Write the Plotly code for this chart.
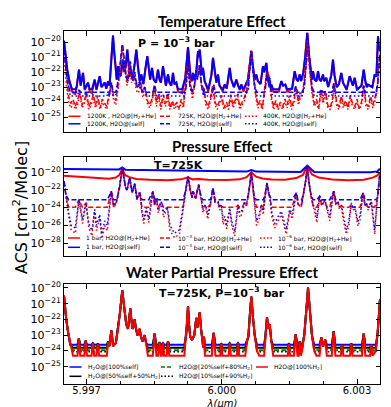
import numpy as np
import plotly.graph_objects as go

# ---------------- data: wavelength in micron, log10(ACS [cm^2/molecule]) ----------------

# 725 K, 1e-3 bar line profile (line tops and wings)
lines_725k_x = [
    5.996500, 5.996520, 5.996550, 5.996590, 5.996640, 5.996700, 5.996800, 5.996830, 5.996860,
    5.996950, 5.996980, 5.997010, 5.997110, 5.997140, 5.997170, 5.997220, 5.997250, 5.997280,
    5.997450, 5.997480, 5.997510, 5.997550, 5.997590, 5.997650, 5.997700, 5.997745, 5.997775,
    5.997793, 5.997810, 5.997840, 5.997880, 5.997920, 5.997950, 5.997971, 5.997990, 5.998020,
    5.998045, 5.998068, 5.998090, 5.998130, 5.998179, 5.998200, 5.998240, 5.998290, 5.998320,
    5.998360, 5.998470, 5.998510, 5.998550, 5.998590, 5.998620, 5.998650, 5.998670, 5.998696,
    5.998720, 5.998780, 5.998807, 5.998835, 5.999170, 5.999210, 5.999230, 5.999251, 5.999270,
    5.999300, 5.999340, 5.999390, 5.999415, 5.999435, 5.999460, 5.999485, 5.999510, 5.999540,
    5.999570, 5.999590, 5.999606, 5.999625, 5.999780, 5.999821, 5.999860, 5.999965, 5.999989,
    6.000013, 6.000150, 6.000176, 6.000200, 6.000335, 6.000360, 6.000385, 6.000520, 6.000566,
    6.000590, 6.000620, 6.000655, 6.000690, 6.000730, 6.000780, 6.000830, 6.000940, 6.000970,
    6.001003, 6.001030, 6.001063, 6.001100, 6.001140, 6.001465, 6.001490, 6.001515, 6.001600,
    6.001640, 6.001680, 6.001705, 6.001729, 6.001755, 6.001780, 6.001830, 6.001870, 6.001895,
    6.001913, 6.001930, 6.001960, 6.002000, 6.002050, 6.002100, 6.002170, 6.002208, 6.002250,
    6.002296, 6.002330, 6.002440, 6.002483, 6.002520, 6.002640, 6.002667, 6.002695, 6.002845,
    6.002873, 6.002900, 6.003110, 6.003148, 6.003185, 6.003290, 6.003317, 6.003345, 6.003420,
    6.003460, 6.003490, 6.003503, 6.003510,
]
lines_725k_log = [
    -20.5, -21.3, -22.0, -22.8, -23.6, -24.8, -24.8, -23.2, -24.8,
    -24.8, -23.35, -24.8, -24.8, -23.5, -24.8, -24.8, -23.55, -24.8,
    -24.8, -23.4, -23.7, -22.7, -23.7, -23.5, -22.6, -21.5, -20.6,
    -20.15, -20.6, -21.5, -22.3, -22.6, -21.9, -21.3, -21.9, -22.6,
    -22.4, -22.0, -22.5, -23.0, -22.6, -23.0, -23.4, -23.0, -23.5,
    -24.8, -24.8, -22.9, -24.8, -24.8, -23.45, -24.8, -24.8, -23.5,
    -24.8, -24.8, -23.4, -24.8, -24.8, -23.0, -22.2, -21.15, -22.2,
    -23.1, -23.3, -23.0, -22.4, -21.9, -22.5, -22.1, -21.55, -22.6,
    -23.3, -23.8, -23.1, -24.8, -24.8, -22.85, -24.8, -24.8, -23.55,
    -24.8, -24.8, -23.5, -24.8, -24.8, -23.5, -24.8, -24.8, -23.25,
    -23.1, -21.8, -20.55, -21.8, -23.0, -24.0, -24.8, -24.8, -23.0,
    -21.85, -22.6, -22.3, -23.4, -24.8, -24.8, -23.55, -24.8, -24.8,
    -22.95, -24.8, -24.8, -23.4, -24.4, -24.0, -23.0, -21.8, -20.7,
    -19.97, -20.7, -21.8, -23.0, -24.0, -24.8, -24.8, -23.15, -23.7,
    -23.3, -24.8, -24.8, -22.75, -24.8, -24.8, -23.6, -24.8, -24.8,
    -23.55, -24.8, -24.8, -22.9, -24.8, -24.8, -23.6, -24.8, -24.0,
    -22.8, -21.6, -20.9, -20.7,
]

# 1200 K, 1e-3 bar line profile
hot_1200k_x = [
    5.996500, 5.996530, 5.996570, 5.996620, 5.996680, 5.996750, 5.996780, 5.996833, 5.996870,
    5.996922, 5.996960, 5.997032, 5.997070, 5.997120, 5.997181, 5.997220, 5.997292, 5.997330,
    5.997403, 5.997440, 5.997476, 5.997510, 5.997540, 5.997565, 5.997587, 5.997610, 5.997640,
    5.997670, 5.997698, 5.997730, 5.997760, 5.997809, 5.997840, 5.997870, 5.997904, 5.997930,
    5.997960, 5.997979, 5.998020, 5.998070, 5.998104, 5.998140, 5.998180, 5.998215, 5.998260,
    5.998310, 5.998348, 5.998380, 5.998410, 5.998452, 5.998490, 5.998540, 5.998585, 5.998620,
    5.998650, 5.998696, 5.998730, 5.998760, 5.998807, 5.998840, 5.998880, 5.998918, 5.998950,
    5.998991, 5.999030, 5.999120, 5.999190, 5.999220, 5.999251, 5.999280, 5.999310, 5.999335,
    5.999362, 5.999400, 5.999440, 5.999473, 5.999492, 5.999510, 5.999540, 5.999560, 5.999583,
    5.999620, 5.999700, 5.999770, 5.999805, 5.999840, 5.999880, 5.999916, 5.999950, 6.000020,
    6.000065, 6.000110, 6.000140, 6.000176, 6.000210, 6.000270, 6.000323, 6.000360, 6.000400,
    6.000434, 6.000480, 6.000580, 6.000620, 6.000655, 6.000690, 6.000730, 6.000766, 6.000800,
    6.000860, 6.000914, 6.000940, 6.000988, 6.001020, 6.001060, 6.001099, 6.001140, 6.001270,
    6.001321, 6.001360, 6.001410, 6.001450, 6.001560, 6.001618, 6.001660, 6.001690, 6.001729,
    6.001760, 6.001810, 6.001850, 6.001897, 6.001940, 6.001980, 6.002000, 6.002024, 6.002060,
    6.002100, 6.002135, 6.002170, 6.002200, 6.002246, 6.002270, 6.002319, 6.002360, 6.002430,
    6.002467, 6.002500, 6.002550, 6.002600, 6.002651, 6.002690, 6.002770, 6.002837, 6.002870,
    6.002910, 6.002949, 6.003000, 6.003100, 6.003148, 6.003190, 6.003220, 6.003244, 6.003280,
    6.003340, 6.003392, 6.003430, 6.003450, 6.003466, 6.003485, 6.003510,
]
hot_1200k_log = [
    -19.9, -20.8, -21.8, -22.6, -23.3, -23.6, -23.0, -21.83, -22.9,
    -22.05, -23.2, -22.7, -23.3, -23.4, -22.5, -23.2, -22.27, -23.0,
    -22.7, -23.1, -22.6, -22.9, -21.7, -20.5, -19.56, -20.5, -21.8,
    -22.5, -21.6, -22.3, -22.2, -21.16, -22.0, -21.6, -20.49, -21.5,
    -22.3, -21.93, -22.4, -21.4, -20.49, -21.6, -22.6, -22.16, -22.8,
    -21.7, -20.93, -21.7, -22.5, -21.71, -22.5, -22.7, -21.83, -22.5,
    -22.7, -21.6, -22.5, -22.9, -22.16, -22.7, -22.9, -22.05, -22.8,
    -22.7, -23.3, -23.4, -22.4, -21.4, -20.33, -21.4, -22.4, -22.6,
    -22.05, -22.6, -21.8, -20.6, -21.0, -20.49, -21.6, -22.2, -21.71,
    -22.6, -23.3, -22.2, -21.05, -22.0, -22.7, -22.16, -22.9, -23.3,
    -22.83, -23.1, -22.5, -21.71, -22.5, -23.0, -22.49, -22.9, -23.2,
    -22.83, -23.3, -22.5, -21.6, -20.6, -21.6, -22.5, -22.16, -22.6,
    -22.8, -21.6, -22.0, -21.38, -22.4, -23.0, -22.83, -23.3, -23.3,
    -22.6, -22.9, -22.83, -23.3, -23.1, -21.93, -22.5, -22.6, -22.16,
    -22.6, -22.0, -21.0, -19.38, -21.0, -22.2, -22.5, -21.93, -22.5,
    -22.6, -21.93, -22.5, -22.6, -22.16, -22.6, -22.38, -23.0, -22.2,
    -21.16, -22.2, -23.0, -22.8, -22.05, -22.7, -23.2, -22.27, -22.6,
    -22.9, -22.38, -23.2, -22.9, -21.83, -22.7, -23.0, -22.83, -22.9,
    -23.0, -22.16, -22.3, -20.8, -19.6, -20.3, -20.6,
]

# temperature panel, H2+He broadened 725 K and 400 K curves (sampled every 0.00005 um)
band_x = [
    5.99650, 5.99655, 5.99660, 5.99665, 5.99670, 5.99675, 5.99680, 5.99685, 5.99690, 5.99695,
    5.99700, 5.99705, 5.99710, 5.99715, 5.99720, 5.99725, 5.99730, 5.99735, 5.99740, 5.99745,
    5.99750, 5.99755, 5.99760, 5.99765, 5.99770, 5.99775, 5.99780, 5.99785, 5.99790, 5.99795,
    5.99800, 5.99805, 5.99810, 5.99815, 5.99820, 5.99825, 5.99830, 5.99835, 5.99840, 5.99845,
    5.99850, 5.99855, 5.99860, 5.99865, 5.99870, 5.99875, 5.99880, 5.99885, 5.99890, 5.99895,
    5.99900, 5.99905, 5.99910, 5.99915, 5.99920, 5.99925, 5.99930, 5.99935, 5.99940, 5.99945,
    5.99950, 5.99955, 5.99960, 5.99965, 5.99970, 5.99975, 5.99980, 5.99985, 5.99990, 5.99995,
    6.00000, 6.00005, 6.00010, 6.00015, 6.00020, 6.00025, 6.00030, 6.00035, 6.00040, 6.00045,
    6.00050, 6.00055, 6.00060, 6.00065, 6.00070, 6.00075, 6.00080, 6.00085, 6.00090, 6.00095,
    6.00100, 6.00105, 6.00110, 6.00115, 6.00120, 6.00125, 6.00130, 6.00135, 6.00140, 6.00145,
    6.00150, 6.00155, 6.00160, 6.00165, 6.00170, 6.00175, 6.00180, 6.00185, 6.00190, 6.00195,
    6.00200, 6.00205, 6.00210, 6.00215, 6.00220, 6.00225, 6.00230, 6.00235, 6.00240, 6.00245,
    6.00250, 6.00255, 6.00260, 6.00265, 6.00270, 6.00275, 6.00280, 6.00285, 6.00290, 6.00295,
    6.00300, 6.00305, 6.00310, 6.00315, 6.00320, 6.00325, 6.00330, 6.00335, 6.00340, 6.00345,
    6.00350,
]
h2he_725k_log = [
    -20.5, -22.3, -23.6, -24.1, -23.8, -24.3, -23.9, -23.2, -24.2, -23.9,
    -23.35, -24.3, -24.0, -23.5, -24.2, -23.55, -24.4, -23.8, -24.1, -24.3,
    -23.4, -22.7, -23.6, -23.9, -22.9, -21.4, -20.15, -21.7, -22.6, -21.3,
    -22.4, -22.0, -22.9, -23.1, -22.6, -23.4, -23.0, -23.9, -24.2, -23.8,
    -22.9, -24.0, -23.45, -24.3, -23.5, -24.1, -23.4, -24.4, -23.9, -24.3,
    -24.0, -24.4, -23.8, -24.2, -22.6, -21.15, -22.6, -23.5, -22.7, -21.9,
    -21.55, -22.8, -23.1, -24.0, -24.3, -23.7, -22.85, -24.0, -24.3, -23.9,
    -23.55, -24.4, -24.0, -24.3, -23.5, -24.2, -23.9, -23.5, -24.3, -24.0,
    -23.7, -23.25, -22.0, -20.55, -22.0, -23.4, -24.2, -23.9, -24.4, -23.0,
    -21.85, -22.3, -23.6, -24.3, -23.9, -24.4, -24.0, -24.3, -23.8, -24.2,
    -23.55, -24.3, -23.9, -22.95, -24.0, -23.4, -23.3, -21.8, -19.97, -21.8,
    -23.2, -24.1, -23.8, -24.4, -23.15, -23.9, -23.3, -24.2, -24.4, -23.9,
    -22.75, -24.1, -24.3, -23.6, -24.2, -23.9, -24.4, -23.55, -24.1, -24.3,
    -23.8, -24.4, -24.0, -22.9, -24.1, -24.3, -23.6, -24.2, -23.7, -22.9,
    -20.9,
]
h2he_400k_log = [
    -21.0, -22.8, -24.0, -24.4, -24.1, -24.5, -24.2, -23.4, -24.4, -24.1,
    -23.6, -24.5, -24.2, -23.8, -24.4, -23.8, -24.5, -24.0, -24.3, -24.5,
    -23.7, -22.9, -23.9, -24.2, -23.1, -21.6, -20.3, -21.9, -22.9, -21.5,
    -22.7, -22.2, -23.2, -23.4, -22.8, -23.7, -23.3, -24.1, -24.4, -24.0,
    -23.1, -24.3, -23.7, -24.5, -23.8, -24.3, -23.7, -24.5, -24.1, -24.5,
    -24.2, -24.5, -24.0, -24.4, -22.8, -21.3, -22.8, -23.8, -22.9, -22.1,
    -21.7, -23.0, -23.4, -24.2, -24.5, -23.9, -23.0, -24.2, -24.5, -24.1,
    -23.8, -24.5, -24.2, -24.5, -23.7, -24.4, -24.1, -23.7, -24.5, -24.2,
    -23.9, -23.4, -22.2, -20.6, -22.2, -23.6, -24.4, -24.1, -24.5, -23.2,
    -22.0, -22.5, -23.8, -24.5, -24.1, -24.5, -24.2, -24.5, -24.0, -24.4,
    -23.8, -24.5, -24.1, -23.1, -24.2, -23.6, -23.5, -21.9, -19.9, -21.9,
    -23.4, -24.3, -24.0, -24.5, -23.4, -24.1, -23.5, -24.4, -24.5, -24.1,
    -22.9, -24.3, -24.5, -23.8, -24.4, -24.1, -24.5, -23.7, -24.3, -24.5,
    -24.0, -24.5, -24.2, -23.1, -24.3, -24.5, -23.8, -24.4, -23.9, -23.1,
    -21.0,
]

# 725 K, 1e-6 bar spectra (pressure panel)
p2_x = [
    5.996500, 5.996540, 5.996600, 5.996660, 5.996750, 5.996833, 5.996910, 5.996988, 5.997050,
    5.997120, 5.997181, 5.997220, 5.997292, 5.997340, 5.997403, 5.997460, 5.997549, 5.997600,
    5.997670, 5.997730, 5.997770, 5.997793, 5.997820, 5.997870, 5.997900, 5.997957, 5.998010,
    5.998068, 5.998120, 5.998179, 5.998230, 5.998270, 5.998326, 5.998380, 5.998474, 5.998510,
    5.998547, 5.998590, 5.998658, 5.998710, 5.998791, 5.998850, 5.998950, 5.999060, 5.999140,
    5.999200, 5.999251, 5.999300, 5.999340, 5.999362, 5.999420, 5.999488, 5.999540, 5.999580,
    5.999640, 5.999690, 5.999750, 5.999805, 5.999850, 5.999916, 5.999950, 5.999989, 6.000030,
    6.000065, 6.000110, 6.000176, 6.000220, 6.000287, 6.000360, 6.000400, 6.000450, 6.000509,
    6.000550, 6.000590, 6.000630, 6.000655, 6.000680, 6.000720, 6.000770, 6.000830, 6.000877,
    6.000920, 6.000960, 6.001003, 6.001035, 6.001063, 6.001110, 6.001174, 6.001250, 6.001320,
    6.001380, 6.001431, 6.001506, 6.001560, 6.001653, 6.001690, 6.001729, 6.001770, 6.001810,
    6.001860, 6.001897, 6.001930, 6.001980, 6.002024, 6.002070, 6.002110, 6.002172, 6.002220,
    6.002283, 6.002330, 6.002394, 6.002483, 6.002530, 6.002578, 6.002610, 6.002651, 6.002700,
    6.002762, 6.002820, 6.002873, 6.002910, 6.002949, 6.003020, 6.003070, 6.003133, 6.003180,
    6.003206, 6.003250, 6.003317, 6.003360, 6.003392, 6.003450, 6.003480, 6.003503, 6.003510,
]
p2_self_1e6_log = [
    -21.0, -22.5, -24.5, -26.0, -26.3, -23.1, -25.3, -23.47, -25.8,
    -26.6, -24.2, -26.0, -24.8, -27.0, -25.5, -26.0, -22.15, -23.8,
    -23.2, -21.8, -20.4, -19.43, -20.4, -21.8, -22.0, -20.57, -22.3,
    -21.3, -23.0, -22.26, -24.3, -25.3, -24.04, -25.2, -22.15, -23.6,
    -22.9, -24.3, -23.3, -24.6, -23.85, -26.0, -26.9, -26.5, -24.0,
    -22.0, -20.45, -22.0, -22.8, -22.15, -22.9, -21.4, -22.8, -24.2,
    -23.66, -24.8, -23.5, -21.78, -23.3, -23.3, -24.0, -23.66, -25.4,
    -25.0, -25.9, -24.04, -25.5, -26.7, -23.66, -24.6, -24.3, -23.3,
    -23.6, -22.6, -21.2, -20.0, -21.2, -22.8, -25.5, -24.8, -23.66,
    -24.4, -22.6, -21.2, -22.2, -22.7, -24.5, -25.8, -25.0, -24.4,
    -25.5, -26.5, -24.2, -24.8, -22.34, -23.5, -23.66, -23.6, -22.5,
    -21.0, -19.25, -21.0, -22.6, -23.66, -24.2, -25.2, -22.7, -23.6,
    -23.1, -24.0, -25.0, -22.15, -23.5, -23.3, -23.9, -23.66, -25.0,
    -26.5, -25.5, -23.47, -24.0, -23.85, -25.6, -24.8, -22.34, -23.7,
    -23.47, -24.0, -23.3, -25.0, -26.5, -23.0, -21.8, -20.27, -20.0,
]
p2_h2he_1e6_log = [
    -21.0, -22.5, -24.9, -26.5, -26.9, -23.1, -25.8, -23.47, -26.3,
    -27.2, -24.3, -26.6, -25.2, -27.5, -26.0, -26.6, -22.15, -24.0,
    -23.3, -21.8, -20.4, -19.43, -20.4, -21.8, -22.0, -20.57, -22.3,
    -21.3, -23.1, -22.26, -24.7, -25.8, -24.2, -25.7, -22.15, -23.8,
    -22.9, -24.6, -23.4, -25.1, -24.0, -26.6, -27.4, -27.0, -24.3,
    -22.0, -20.45, -22.0, -22.9, -22.15, -23.0, -21.4, -22.9, -24.6,
    -23.8, -25.3, -23.6, -21.78, -23.4, -23.4, -24.3, -23.8, -25.9,
    -25.4, -26.4, -24.2, -26.0, -27.2, -23.8, -25.1, -24.7, -23.4,
    -23.8, -22.6, -21.2, -20.0, -21.2, -22.9, -26.0, -25.3, -23.8,
    -24.8, -22.6, -21.2, -22.2, -22.8, -25.0, -26.3, -25.5, -24.8,
    -26.0, -27.0, -24.4, -25.3, -22.34, -23.6, -23.8, -23.8, -22.5,
    -21.0, -19.25, -21.0, -22.7, -23.8, -24.6, -25.7, -22.8, -23.8,
    -23.2, -24.3, -25.5, -22.15, -23.6, -23.4, -24.2, -23.8, -25.5,
    -27.0, -26.0, -23.6, -24.3, -24.0, -26.1, -25.3, -22.34, -23.8,
    -23.6, -24.3, -23.4, -25.5, -27.0, -23.0, -21.8, -20.27, -20.0,
]

# 725 K, 1 bar spectra (pressure-broadened)
p2_1bar_h2he_x = [
    5.996500, 5.996800, 5.997200, 5.997500, 5.997650, 5.997730, 5.997793, 5.997850, 5.997950,
    5.998100, 5.998400, 5.998800, 5.999100, 5.999251, 5.999350, 5.999488, 5.999700, 6.000100,
    6.000400, 6.000550, 6.000655, 6.000760, 6.000900, 6.001100, 6.001400, 6.001650, 6.001800,
    6.001897, 6.002000, 6.002150, 6.002450, 6.002800, 6.003150, 6.003350, 6.003450, 6.003510,
]
p2_1bar_h2he_log = [
    -20.38, -20.5, -20.65, -20.72, -20.6, -20.3, -19.6, -20.3, -20.55,
    -20.75, -20.85, -20.9, -20.8, -20.57, -20.8, -20.75, -20.85, -20.88,
    -20.8, -20.55, -20.0, -20.5, -20.7, -20.82, -20.85, -20.65, -20.3,
    -19.25, -20.25, -20.6, -20.82, -20.9, -20.85, -20.6, -20.35, -20.0,
]
p2_1bar_self_x = [
    5.996500, 5.997500, 5.997720, 5.997793, 5.997860, 5.999000, 5.999700, 6.000550, 6.000655,
    6.000760, 6.001750, 6.001897, 6.002050, 6.003300, 6.003450, 6.003510,
]
p2_1bar_self_log = [
    -19.62, -19.7, -19.68, -19.45, -19.7, -19.8, -19.88, -19.92, -19.75,
    -19.92, -19.97, -19.25, -19.97, -20.0, -19.9, -19.6,
]

floor_temp = {"1200_h2he": -23.5, "1200_self": -23.15, "725_self": -23.35, "400_self": -23.6}
floor_press = {"1e3_h2he": -23.95, "1e3_self": -23.12}
floor_water = {"100self": -23.6, "50self": -23.8, "20self": -23.95, "10self": -24.05, "0self": -24.3}

# ---------------- figure ----------------
W, H = 391, 407
L, R, T, B = 56, 19, 23, 31
PW, PH = W - L - R, H - T - B
XR = [5.9965, 6.00351]
RED, BLUE = "#ff0000", "#0000ff"
DASH, DOT = "5px,2.5px", "1.6px,2.4px"
FONT = "DejaVu Sans"


def px(x):
    return (x - L) / PW


def py(y):
    return (H - B - y) / PH


def floored(values, level):
    return np.maximum(np.asarray(values), level)


fig = go.Figure()


def add(x, logy, color, dash, width, n):
    fig.add_trace(go.Scatter(
        x=x, y=np.power(10.0, np.asarray(logy)), mode="lines",
        line=dict(color=color, dash=dash, width=width),
        xaxis="x" if n == 1 else f"x{n}", yaxis="y" if n == 1 else f"y{n}",
        showlegend=False, hoverinfo="skip",
    ))


# panel 1: temperature
add(hot_1200k_x, floored(hot_1200k_log, floor_temp["1200_h2he"]), RED, "solid", 2, 1)
add(hot_1200k_x, floored(hot_1200k_log, floor_temp["1200_self"]), BLUE, "solid", 2, 1)
add(band_x, h2he_725k_log, RED, DASH, 1.5, 1)
add(lines_725k_x, floored(lines_725k_log, floor_temp["725_self"]), BLUE, DASH, 1.5, 1)
add(band_x, h2he_400k_log, RED, DOT, 1.5, 1)
add(lines_725k_x, floored(lines_725k_log, floor_temp["400_self"]), BLUE, DOT, 1.5, 1)

# panel 2: pressure
add(p2_1bar_h2he_x, p2_1bar_h2he_log, RED, "solid", 2, 2)
add(p2_1bar_self_x, p2_1bar_self_log, BLUE, "solid", 2, 2)
add(p2_x, floored(p2_h2he_1e6_log, floor_press["1e3_h2he"]), RED, DASH, 1.5, 2)
add(p2_x, floored(p2_self_1e6_log, floor_press["1e3_self"]), BLUE, DASH, 1.5, 2)
add(p2_x, p2_h2he_1e6_log, RED, DOT, 1.5, 2)
add(p2_x, p2_self_1e6_log, BLUE, DOT, 1.5, 2)

# panel 3: water partial pressure
add(lines_725k_x, floored(lines_725k_log, floor_water["100self"]), BLUE, "solid", 2, 3)
add(lines_725k_x, floored(lines_725k_log, floor_water["50self"]), "black", "solid", 2, 3)
add(lines_725k_x, floored(lines_725k_log, floor_water["20self"]), "green", DASH, 2, 3)
add(lines_725k_x, floored(lines_725k_log, floor_water["10self"]), "black", DOT, 1.5, 3)
add(lines_725k_x, floored(lines_725k_log, floor_water["0self"]), RED, "solid", 2, 3)


def sup(n):
    return f"10<sup>\u2212{n}</sup>"


domains = [[(H - B - 124) / PH, 1.0], [(H - B - 248) / PH, (H - B - 149) / PH], [0.0, (H - B - 276) / PH]]
yranges = [[-26.0, -19.25], [-29.47, -18.27], [-26.1, -19.75]]
ytick_exp = [[20, 21, 22, 23, 24, 25], [20, 22, 24, 26, 28], [20, 21, 22, 23, 24, 25]]

axis_common = dict(showline=True, linecolor="black", linewidth=1, mirror="allticks",
                   ticks="inside", tickcolor="black", showgrid=False, zeroline=False)

for i in range(3):
    n = "" if i == 0 else str(i + 1)
    fig.update_layout(**{
        f"xaxis{n}": dict(
            axis_common, domain=[0, 1], anchor=f"y{n}", range=XR,
            tickvals=[5.997, 6.000, 6.003], ticktext=["5.997", "6.000", "6.003"],
            tickfont=dict(family=FONT, size=10, color="black"), ticklabelstandoff=-3,
            ticklen=5, showticklabels=(i == 2),
            minor=dict(ticks="inside", ticklen=3, tickcolor="black",
                       tickvals=[5.99775, 5.9985, 5.99925, 6.00075, 6.0015, 6.00225]),
        ),
        f"yaxis{n}": dict(
            axis_common, domain=domains[i], anchor=f"x{n}", type="log", range=yranges[i],
            tickvals=[10.0 ** -k for k in ytick_exp[i]], ticktext=[sup(k) for k in ytick_exp[i]],
            tickfont=dict(family=FONT, size=11, color="black"),
            ticklen=4,
        ),
    })

ann = []
shapes = []
# panel titles
for text, yc in [("Temperature Effect", 13), ("Pressure Effect", 138), ("Water Partial Pressure Effect", 264)]:
    ann.append(dict(text=text, x=px(214), y=py(yc), xref="paper", yref="paper", showarrow=False,
                    xanchor="center", yanchor="middle",
                    font=dict(family="Lato", size=15, color="black", weight="bold")))
# in-panel conditions
for text, xc, yc in [("P = 10<sup>\u22123</sup> bar", 168, 34), ("T=725K", 170, 157),
                     ("T=725K, P=10<sup>\u22123</sup> bar", 214, 284)]:
    ann.append(dict(text=text, x=px(xc), y=py(yc), xref="paper", yref="paper", showarrow=False,
                    xanchor="center", yanchor="middle",
                    font=dict(family=FONT, size=11, color="black", weight="bold")))
# shared y title and x title
ann.append(dict(text="ACS [cm<sup>2</sup>/Molec]", x=px(12), y=py(200), xref="paper", yref="paper",
                showarrow=False, textangle=-90, xanchor="center", yanchor="middle",
                font=dict(family=FONT, size=16, color="black")))
ann.append(dict(text="\u03bb(\u03bcm)", x=px(214), y=py(394.5), xref="paper", yref="paper",
                showarrow=False, xanchor="center", yanchor="middle", borderpad=0,
                width=44, height=16, valign="middle",
                font=dict(family=FONT, size=10, color="black", style="italic")))

# legends (3 columns x 2 rows, matplotlib style)
H2 = "H<sub>2</sub>"
legends = [
    ([60.5, 152, 237], [108.3, 115.8], [
        ("1200K , H2O@[" + H2 + "+He]", RED, "solid"), ("1200K, H2O@[self]", BLUE, "solid"),
        ("725K, H2O@[" + H2 + "+He]", RED, "dash"), ("725K, H2O@[self]", BLUE, "dash"),
        ("400K, H2O@[" + H2 + "+He]", RED, "dot"), ("400K, H2O@[self]", BLUE, "dot"),
    ]),
    ([60, 152, 252], [230, 239.3], [
        ("1 bar, H2O@[" + H2 + "+He]", RED, "solid"), ("1 bar, H2O@[self]", BLUE, "solid"),
        ("10<sup>\u22123</sup> bar, H2O@[" + H2 + "+He]", RED, "dash"),
        ("10<sup>\u22123</sup> bar, H2O@[self]", BLUE, "dash"),
        ("10<sup>\u22126</sup> bar, H2O@[" + H2 + "+He]", RED, "dot"),
        ("10<sup>\u22126</sup> bar, H2O@[self]", BLUE, "dot"),
    ]),
    ([61.5, 153, 248], [359, 368.3], [
        ("H<sub>2</sub>O@[100%self]", BLUE, "solid"),
        ("H<sub>2</sub>O@[50%self+50%" + H2 + "]", "black", "solid"),
        ("H2O@[20%self+80%" + H2 + "]", "green", "dash"),
        ("H2O@[10%self+90%" + H2 + "]", "black", "dot"),
        ("H2O@[100%" + H2 + "]", RED, "solid"),
    ]),
]
dash_map = {"solid": "solid", "dash": "4px,2px", "dot": "1.5px,2px"}
for cols, rows, entries in legends:
    for k, (label, color, dash) in enumerate(entries):
        xs, ys = cols[k // 2], rows[k % 2]
        shapes.append(dict(type="line", xref="paper", yref="paper", x0=px(xs), x1=px(xs + 12),
                           y0=py(ys), y1=py(ys), line=dict(color=color, width=1.5, dash=dash_map[dash])))
        ann.append(dict(text=label, x=px(xs + 16), y=py(ys), xref="paper", yref="paper", showarrow=False,
                        xanchor="left", yanchor="middle", font=dict(family=FONT, size=6, color="black")))

fig.update_layout(
    width=W, height=H, margin=dict(l=L, r=R, t=T, b=B),
    plot_bgcolor="white", paper_bgcolor="white", showlegend=False,
    annotations=ann, shapes=shapes,
)

fig.write_html("out.html")
